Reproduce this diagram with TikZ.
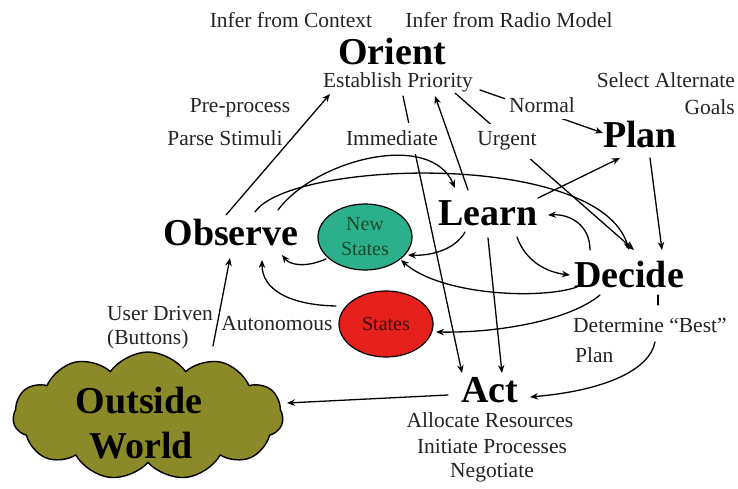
\documentclass[tikz,border=0pt]{standalone}
\usepackage{fontspec}
\setmainfont{Liberation Serif}
\usetikzlibrary{arrows.meta,shapes.symbols,shapes.geometric,calc}
\definecolor{olivec}{RGB}{138,138,40}
\definecolor{tealc}{RGB}{44,176,140}
\definecolor{redc}{RGB}{230,32,28}
\definecolor{txt}{RGB}{35,35,35}
\definecolor{dgreen}{RGB}{25,75,40}
\definecolor{dred}{RGB}{60,10,10}
\begin{document}
\begin{tikzpicture}[x=1pt,y=-1pt,
 lbl/.style={font=\fontsize{21.5}{25}\selectfont, text=txt, inner sep=0pt, anchor=base},
 ttl/.style={font=\fontsize{38}{44}\selectfont\bfseries, inner sep=0pt, anchor=base},
 gaplbl/.style={lbl, fill=white, inner xsep=3pt, inner ysep=8pt},
 conn/.style={line width=1.3pt, line cap=round},
 arr/.style={conn, -{Stealth[length=8pt,width=6.5pt]}},
 blob/.style={ellipse, draw, line width=1.2pt, minimum width=94pt, minimum height=66pt, inner sep=0pt, align=center, font=\fontsize{20}{25}\selectfont},
]
\useasboundingbox (0,0) rectangle (738,489);
% labels and titles
\node[lbl] (ctx) at (291,28) {Infer from Context};
\node[lbl] (radio) at (509,28) {Infer from Radio Model};
\node[ttl] (orient) at (392,65) {Orient};
\node[lbl] (prio) at (398,88) {Establish Priority};
\node[lbl] (pre) at (240,113) {Pre-process};
\node[lbl] (parse) at (225,146) {Parse Stimuli};
\node[lbl,anchor=base east] (sel) at (735,88) {Select Alternate};
\node[lbl,anchor=base east] (goals) at (735,115) {Goals};
\node[ttl] (plan) at (640,148) {Plan};
\node[ttl] (learn) at (488,225) {Learn};
\node[ttl] (obs) at (231,245) {Observe};
\node[ttl] (decide) at (629,287) {Decide};
\node[lbl,anchor=base west] (best) at (573,332) {Determine “Best”};
\node[lbl,anchor=base west] (bplan) at (575,362) {Plan};
\node[blob, fill=tealc, text=dgreen] (newst) at (365,237) {New\\States};
\node[blob, fill=redc, text=dred] (states) at (386,324) {States};
\node[lbl,anchor=base west] (user) at (107,320) {User Driven};
\node[lbl,anchor=base west] (btn) at (107,344) {(Buttons)};
\node[lbl] (auto) at (277,330) {Autonomous};
\node[cloud, draw, fill=olivec, line width=1.4pt, cloud puffs=11, cloud puff arc=110, aspect=2, minimum width=270pt, minimum height=128pt, inner sep=0pt] (world) at (148,416) {};
\node[ttl] (outside) at (139,413) {Outside};
\node[ttl] (wrld) at (141,458) {World};
\node[ttl] (act) at (490,402) {Act};
\node[lbl] (alloc) at (490,427) {Allocate Resources};
\node[lbl] (init) at (492,453) {Initiate Processes};
\node[lbl] (neg) at (492,477) {Negotiate};
% connectors
\draw[arr] ($(obs.base)+(-5,-30)$) -- ($(prio.base)+(-68,6)$);
\draw[arr] ($(prio.base)+(5,8)$) -- ($(act.base)+(-28,-29)$);
\draw[arr] ($(prio.base)+(57,5)$) -- ($(decide.base)+(5,-37)$);
\draw[arr] ($(prio.base)+(82,2)$) -- ($(plan.base)+(-37,-15)$);
\draw[arr] ($(learn.base)+(-20,-35)$) -- ($(prio.base)+(37,8)$);
\draw[arr] ($(learn.base)+(50,-27)$) -- ($(plan.base)+(-20,10)$);
\draw[arr] ($(plan.base)+(10,10)$) -- ($(decide.base)+(33,-37)$);
\draw[arr] ($(obs.base)+(47,-35)$) .. controls (315,160) and (430,130) .. ($(learn.base)+(-33,-37)$);
\draw[arr] ($(obs.base)+(24,-33)$) .. controls (290,160) and (600,150) .. ($(decide.base)+(0,-37)$);
\draw[arr] ($(learn.base)+(-23,7)$) .. controls (455,250) and (430,256) .. ($(newst)+(43,18)$);
\draw[arr] ($(newst)+(-39,22)$) .. controls (305,268) and (290,265) .. ($(obs.base)+(51,10)$);
\draw[arr] ($(states)+(-50,-18)$) .. controls (290,305) and (262,290) .. ($(obs.base)+(31,15)$);
\draw[arr] ($(learn.base)+(29,12)$) .. controls (525,260) and (545,272) .. ($(decide.base)+(-59,-12)$);
\draw[arr] ($(decide.base)+(-39,-37)$) .. controls (590,225) and (570,214) .. ($(learn.base)+(60,-10)$);
\draw[arr] ($(decide.base)+(-52,0)$) .. controls (540,300) and (440,295) .. ($(newst)+(36,23)$);
\draw[arr] ($(decide.base)+(-29,8)$) .. controls (570,320) and (500,333) .. ($(states)+(50,8)$);
\draw[arr] ($(learn.base)+(0,13)$) -- ($(act.base)+(12,-29)$);
\draw[conn] ($(decide.base)+(29,8)$) -- ($(decide.base)+(29,18)$);
\coordinate (dgap) at ($(best.base west)+(82,10)$);
\draw[arr] (dgap) .. controls (650,368) and (610,390) .. ($(act.base)+(40,-5)$);
\draw[arr] ($(world)+(65,-70)$) -- ($(obs.base)+(-1,13)$);
\draw[arr] ($(act.base)+(-42,-7)$) -- ($(world)+(139,-13)$);
% labels that interrupt lines
\node[gaplbl] (immed) at (392,146) {Immediate};
\node[gaplbl] (urgent) at (507,146) {Urgent};
\node[gaplbl, inner xsep=4pt, inner ysep=6pt] (normal) at (542,113) {Normal};
\end{tikzpicture}
\end{document}
